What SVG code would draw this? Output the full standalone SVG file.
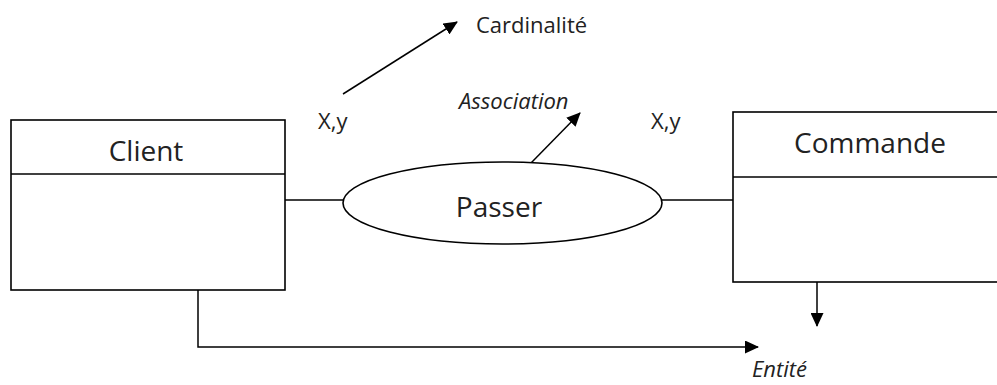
<svg xmlns="http://www.w3.org/2000/svg" width="997" height="385" viewBox="0 0 997 385">
  <style>
    .box { fill: #fff; stroke: #000; stroke-width: 1.6; }
    .line { fill: none; stroke: #000; stroke-width: 1.5; }
    .lbl { font-family: "Open Sans", "Liberation Sans", sans-serif; fill: #222; }
    .big { font-size: 28px; }
    .small { font-size: 22px; }
    .it { font-style: italic; }
  </style>
  <defs>
    <marker id="arrow" viewBox="0 0 14 13" refX="13" refY="6.5" markerWidth="14" markerHeight="13" markerUnits="userSpaceOnUse" orient="auto">
      <path d="M0,0 L14,6.5 L0,13 Z" fill="#000"/>
    </marker>
  </defs>

  <rect width="997" height="385" fill="#fff"/>

  <!-- connectors -->
  <g id="connectors">
    <line class="line" x1="285" y1="200" x2="343" y2="200"/>
    <line class="line" x1="662" y1="200" x2="733" y2="200"/>
    <line class="line" x1="531" y1="163" x2="580" y2="113" marker-end="url(#arrow)"/>
    <line class="line" x1="343" y1="94" x2="457" y2="22" marker-end="url(#arrow)"/>
    <polyline class="line" points="198,290 198,347 758,347" marker-end="url(#arrow)"/>
    <line class="line" x1="817" y1="282" x2="817" y2="326" marker-end="url(#arrow)"/>
  </g>

  <!-- entity: Client -->
  <g id="client">
    <rect class="box" x="11" y="120" width="274" height="170"/>
    <line class="line" x1="11" y1="174" x2="285" y2="174"/>
    <text class="lbl big" x="146" y="161" text-anchor="middle">Client</text>
  </g>

  <!-- entity: Commande -->
  <g id="commande">
    <rect class="box" x="733" y="112" width="280" height="170"/>
    <line class="line" x1="733" y1="177" x2="997" y2="177"/>
    <text class="lbl big" x="870" y="153" text-anchor="middle">Commande</text>
  </g>

  <!-- association: Passer -->
  <g id="passer">
    <ellipse class="box" cx="502.5" cy="203" rx="159.5" ry="41"/>
    <text class="lbl big" x="499" y="217" text-anchor="middle">Passer</text>
  </g>

  <!-- annotations -->
  <g id="annotations">
    <text class="lbl small" x="476" y="33">Cardinalité</text>
    <text class="lbl small it" x="459" y="109">Association</text>
    <text class="lbl small" x="318" y="129">X,y</text>
    <text class="lbl small" x="651" y="129">X,y</text>
    <text class="lbl small it" x="752" y="377">Entité</text>
  </g>
</svg>
